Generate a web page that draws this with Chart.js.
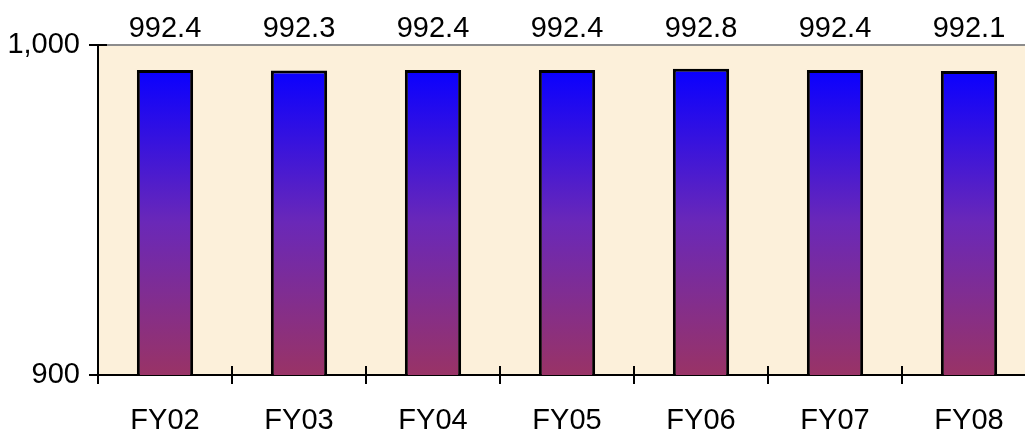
<!DOCTYPE html>
<html>
<head>
<meta charset="utf-8">
<script src="https://cdn.jsdelivr.net/npm/chart.js@4/dist/chart.umd.min.js"></script>
<style>
  html, body { margin: 0; padding: 0; background: #fff; overflow: hidden; }
  #wrap { width: 1025px; height: 429px; overflow: hidden; }
</style>
</head>
<body>
<div id="wrap"><canvas id="chart" width="1040" height="429"></canvas></div>
<script>
// chart data
const years = ["FY02", "FY03", "FY04", "FY05", "FY06", "FY07", "FY08"];
const values = [992.4, 992.3, 992.4, 992.4, 992.8, 992.4, 992.1];
const yMin = 900;
const yMax = 1000;

Chart.defaults.font.family = "'Liberation Sans', Arial, sans-serif";
Chart.defaults.font.size = 29;
Chart.defaults.color = "#000";

// parchment background + top line + inner tick halves + value labels
const decorPlugin = {
    id: "decor",
    beforeDraw(chart) {
        const { ctx, chartArea } = chart;
        ctx.save();
        ctx.fillStyle = "#fcf0da";
        ctx.fillRect(chartArea.left, chartArea.top, chartArea.right - chartArea.left, chartArea.bottom - chartArea.top);
        ctx.restore();
    },
    afterDraw(chart) {
        const { ctx, chartArea, scales } = chart;
        ctx.save();
        // top border line
        ctx.strokeStyle = "#8c8c8c";
        ctx.lineWidth = 2;
        ctx.beginPath();
        ctx.moveTo(chartArea.left, chartArea.top);
        ctx.lineTo(chart.width, chartArea.top);
        ctx.stroke();

        // inner halves of the ticks (ticks cross the axis)
        ctx.strokeStyle = "#000";
        ctx.lineWidth = 2;
        const x = scales.x;
        for (let i = 1; i < years.length; i++) {
            const px = (x.getPixelForTick(i - 1) + x.getPixelForTick(i)) / 2;
            ctx.beginPath();
            ctx.moveTo(px, chartArea.bottom - 9);
            ctx.lineTo(px, chartArea.bottom);
            ctx.stroke();
        }
        const y = scales.y;
        y.ticks.forEach((t) => {
            const py = y.getPixelForValue(t.value);
            ctx.beginPath();
            ctx.moveTo(chartArea.left, py);
            ctx.lineTo(chartArea.left + 9, py);
            ctx.stroke();
        });

        // value labels above the plot
        ctx.fillStyle = "#000";
        ctx.font = "29px 'Liberation Sans', Arial, sans-serif";
        ctx.textAlign = "center";
        ctx.textBaseline = "bottom";
        const meta = chart.getDatasetMeta(0);
        meta.data.forEach((bar, i) => {
            ctx.fillText(values[i].toFixed(1), bar.x, chartArea.top - 2);
        });
        ctx.restore();
    }
};

const ctx = document.getElementById("chart").getContext("2d");
const chart = new Chart(ctx, {
    type: "bar",
    data: {
        labels: years,
        datasets: [
            {
                data: values,
                backgroundColor: (c) => {
                    const area = c.chart.chartArea;
                    if (!area) return "#5020cc";
                    const yScale = c.chart.scales.y;
                    const g = c.chart.ctx.createLinearGradient(0, area.bottom, 0, yScale.getPixelForValue(992.5));
                    g.addColorStop(0, "#993366");
                    g.addColorStop(0.5, "#6a28b8");
                    g.addColorStop(1, "#0a00ff");
                    return g;
                },
                borderColor: "#000",
                borderWidth: 3,
                borderSkipped: false,
                categoryPercentage: 1,
                barPercentage: 0.42,
            },
        ],
    },
    options: {
        responsive: false,
        animation: false,
        layout: { padding: { top: 45, right: 4, left: 0, bottom: 0 } },
        plugins: {
            legend: { display: false },
            tooltip: { enabled: false },
        },
        scales: {
            x: {
                grid: {
                    display: true,
                    offset: true,
                    drawOnChartArea: false,
                    drawTicks: true,
                    tickLength: 9,
                    color: "#000",
                    lineWidth: 2,
                },
                border: { display: true, color: "#000", width: 2 },
                ticks: { padding: 20, maxRotation: 0 },
                afterFit: (s) => { s.height = 54; },
            },
            y: {
                min: yMin,
                max: yMax,
                grid: {
                    display: true,
                    drawOnChartArea: false,
                    drawTicks: true,
                    tickLength: 9,
                    color: "#000",
                    lineWidth: 2,
                },
                border: { display: true, color: "#000", width: 2 },
                ticks: { stepSize: 100, padding: 9 },
                afterFit: (s) => { s.width = 98; },
            },
        },
    },
    plugins: [decorPlugin],
});
</script>
</body>
</html>
